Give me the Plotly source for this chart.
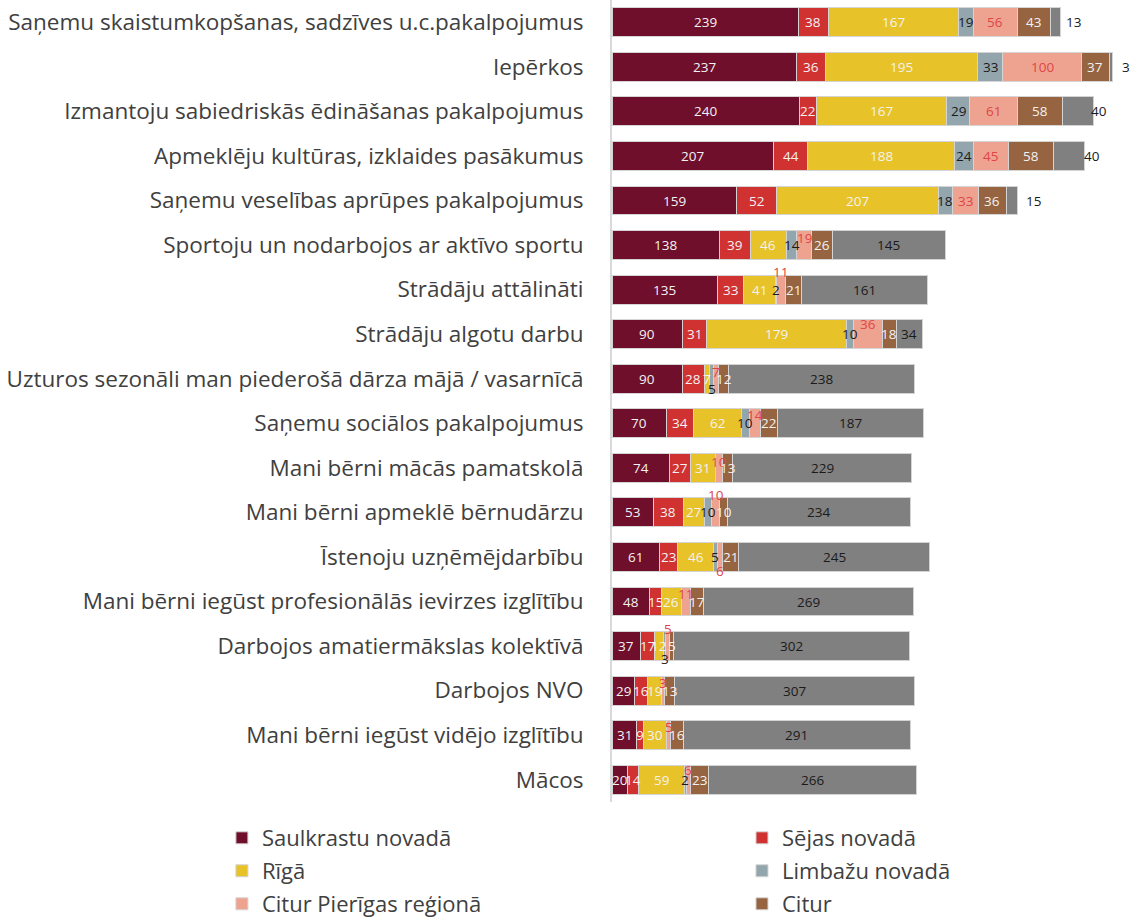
import plotly.graph_objects as go

categories = [
    "Saņemu skaistumkopšanas, sadzīves u.c.pakalpojumus",
    "Iepērkos",
    "Izmantoju sabiedriskās ēdināšanas pakalpojumus",
    "Apmeklēju kultūras, izklaides pasākumus",
    "Saņemu veselības aprūpes pakalpojumus",
    "Sportoju un nodarbojos ar aktīvo sportu",
    "Strādāju attālināti",
    "Strādāju algotu darbu",
    "Uzturos sezonāli man piederošā dārza mājā / vasarnīcā",
    "Saņemu sociālos pakalpojumus",
    "Mani bērni mācās pamatskolā",
    "Mani bērni apmeklē bērnudārzu",
    "Īstenoju uzņēmējdarbību",
    "Mani bērni iegūst profesionālās ievirzes izglītību",
    "Darbojos amatiermākslas kolektīvā",
    "Darbojos NVO",
    "Mani bērni iegūst vidējo izglītību",
    "Mācos",
]

saulkrastu = [239, 237, 240, 207, 159, 138, 135, 90, 90, 70, 74, 53, 61, 48, 37, 29, 31, 20]
sejas = [38, 36, 22, 44, 52, 39, 33, 31, 28, 34, 27, 38, 23, 15, 17, 16, 9, 14]
riga = [167, 195, 167, 188, 207, 46, 41, 179, 7, 62, 31, 27, 46, 26, 12, 19, 30, 59]
limbazu = [19, 33, 29, 24, 18, 14, 2, 10, 5, 10, 0, 10, 5, 0, 3, 0, 0, 2]
pieriga = [56, 100, 61, 45, 33, 19, 11, 36, 7, 14, 10, 10, 6, 11, 5, 3, 5, 6]
citur = [43, 37, 58, 58, 36, 26, 21, 18, 12, 22, 13, 10, 21, 17, 5, 13, 16, 23]
other = [13, 3, 40, 40, 15, 145, 161, 34, 238, 187, 229, 234, 245, 269, 302, 307, 291, 266]

series_names = ["Saulkrastu novadā", "Sējas novadā", "Rīgā", "Limbažu novadā",
                "Citur Pierīgas reģionā", "Citur", "Cits"]
series_values = [saulkrastu, sejas, riga, limbazu, pieriga, citur, other]
colors = ["#6f0f2b", "#d03131", "#e8c229", "#93a6ae", "#eea391", "#966440", "#808080"]
label_colors = ["#f2f2f2", "#f2f2f2", "#f2f2f2", "#1a1a1a", "#e04545", "#f2f2f2", "#1a1a1a"]

# label offsets (series index, row index) -> (xshift, yshift) in px
label_shift = {
    (6, 0): (18, 0), (6, 1): (15, 0), (6, 2): (21, 0), (6, 3): (23, 0), (6, 4): (22, 0),
    (4, 5): (0, 7), (4, 6): (0, 18), (4, 7): (0, 10), (3, 8): (0, -10), (4, 8): (0, 7),
    (4, 9): (0, 8), (4, 10): (0, 6), (4, 11): (0, 17), (4, 12): (0, -14),
    (4, 13): (0, 8), (4, 14): (0, 17), (3, 14): (0, -13), (4, 15): (0, 8),
    (4, 16): (0, 8), (4, 17): (0, 10),
}

# one legend per legend entry (2 columns x 3 rows)
legend_ids = ["legend", "legend2", "legend3", "legend4", "legend5", "legend6", None]
legend_pos = {
    "legend": (0.195, 0.0891), "legend2": (0.652, 0.0891),
    "legend3": (0.195, 0.0533), "legend4": (0.652, 0.0533),
    "legend5": (0.195, 0.0174), "legend6": (0.652, 0.0174),
}

fig = go.Figure()
for i, (name, vals) in enumerate(zip(series_names, series_values)):
    fig.add_trace(go.Bar(
        y=categories, x=vals, name=name, orientation="h",
        marker=dict(color=colors[i], line=dict(color="#d4d4d4", width=1)),
        showlegend=legend_ids[i] is not None,
        legend=legend_ids[i] if legend_ids[i] else "legend",
        hoverinfo="x+name",
    ))

annotations = []
cum = [0] * len(categories)
for i, vals in enumerate(series_values):
    for r, v in enumerate(vals):
        if v:
            xs, ys = label_shift.get((i, r), (0, 0))
            annotations.append(dict(
                x=cum[r] + v / 2, y=categories[r], xref="x", yref="y",
                text=str(v), showarrow=False, xshift=xs, yshift=ys,
                font=dict(size=13.5, color=label_colors[i], family="Open Sans"),
            ))
        cum[r] += v

legends = {}
for lid, (lx, ly) in legend_pos.items():
    legends[lid] = dict(orientation="h", xref="container", yref="container", x=lx, y=ly,
                        xanchor="left", yanchor="middle",
                        font=dict(size=22, color="#404040"), itemwidth=30,
                        bgcolor="rgba(0,0,0,0)")

fig.update_layout(
    barmode="stack",
    width=1138, height=920,
    margin=dict(l=612, r=0, t=0, b=118, autoexpand=False),
    paper_bgcolor="white", plot_bgcolor="white",
    bargap=0.35,
    font=dict(family="Open Sans", color="#404040"),
    annotations=annotations,
    xaxis=dict(range=[0, 674], visible=False),
    yaxis=dict(autorange="reversed", showline=True, linecolor="#d9d9d9", linewidth=2,
               ticks="", tickfont=dict(size=22.5, color="#404040"), ticklabelstandoff=22,
               showgrid=False),
    **legends,
)

fig.write_html("out.html", config={"displayModeBar": False},
               post_script="document.body.style.margin='0';")
